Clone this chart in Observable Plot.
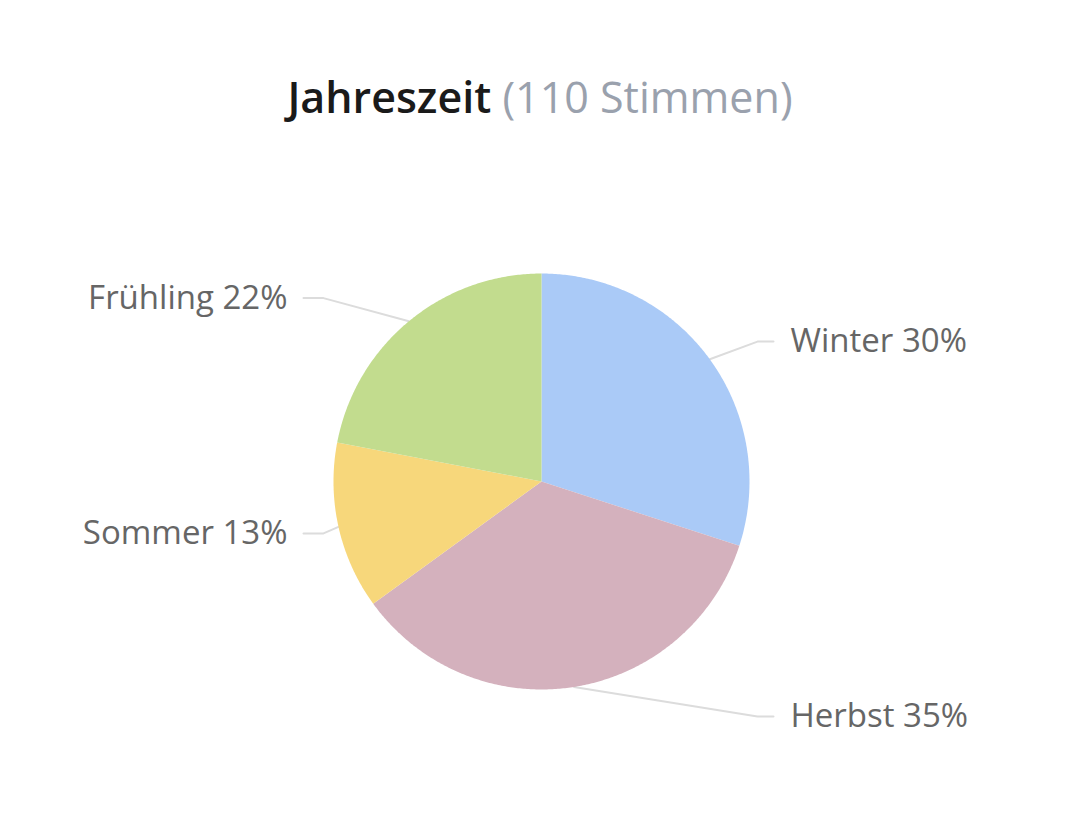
<!DOCTYPE html>
<html>
<head>
<meta charset="utf-8">
<script src="https://cdn.jsdelivr.net/npm/d3@7"></script>
<script src="https://cdn.jsdelivr.net/npm/@observablehq/plot@0.6"></script>
<style>
  html, body { margin: 0; padding: 0; background: #fff; }
  body { width: 1080px; height: 822px; overflow: hidden; font-family: "Open Sans", sans-serif; }
  #title { height: 170px; box-sizing: border-box; padding-top: 75px; text-align: center;
           font-size: 43px; line-height: 43px; font-weight: 600; color: #1a1a1a; }
  #title span { font-weight: 400; color: #9aa1ad; }
  #chart svg { display: block; }
</style>
</head>
<body>
<div id="title">Jahreszeit <span>(110 Stimmen)</span></div>
<div id="chart"></div>
<script>
// Data
const categories = ["Winter", "Herbst", "Sommer", "Frühling"];
const percentages = [30, 35, 13, 22];
const colors = ["#aacaf7", "#d4b1bd", "#f7d77b", "#c2dc8e"];

// Layout constants
const W = 1080, H = 652;
const cx = 541, cy = 311;   // pie centre within the SVG (px)
const R = 208;              // pie radius (px)
const labelDist = R + 30;

const pie = d3.pie().sort(null).value(d => d.value)(
  categories.map((name, i) => ({name, value: percentages[i]}))
);

// slice polygons in centre-relative, y-up coordinates
const slicePts = [];
for (const p of pie) {
  const a0 = p.startAngle, a1 = p.endAngle;
  const n = Math.max(2, Math.ceil((a1 - a0) / (Math.PI / 360)));
  slicePts.push({name: p.data.name, x: 0, y: 0});
  for (let k = 0; k <= n; k++) {
    const a = a0 + (a1 - a0) * k / n;
    slicePts.push({name: p.data.name, x: R * Math.sin(a), y: R * Math.cos(a)});
  }
  slicePts.push({name: p.data.name, x: 0, y: 0});
}

// connectors and labels
const connPts = [];
const labels = [];
for (const p of pie) {
  const mid = (p.startAngle + p.endAngle) / 2;
  const right = Math.sin(mid) >= 0;
  const sx = R * Math.sin(mid), sy = R * Math.cos(mid);
  const ly = labelDist * Math.cos(mid);
  const bx = right ? 216 : -218;
  const ex = right ? 232 : -238;
  connPts.push({name: p.data.name, x: sx, y: sy});
  connPts.push({name: p.data.name, x: bx, y: ly});
  connPts.push({name: p.data.name, x: ex, y: ly});
  labels.push({
    text: `${p.data.name} ${p.data.value}%`,
    x: right ? 249 : -254,
    y: ly,
    anchor: right ? "start" : "end"
  });
}

const chart = Plot.plot({
  width: W,
  height: H,
  margin: 0,
  style: {fontFamily: "Open Sans, sans-serif", background: "#fff"},
  x: {domain: [-cx, W - cx], axis: null},
  y: {domain: [cy - H, cy], axis: null},
  color: {domain: categories, range: colors},
  marks: [
    Plot.line(connPts, {x: "x", y: "y", z: "name", stroke: "#dcdcdc", strokeWidth: 2, curve: "linear"}),
    Plot.line(slicePts, {x: "x", y: "y", z: "name", fill: "name", stroke: "none", curve: "linear"}),
    Plot.text(labels.filter(d => d.anchor === "start"), {x: "x", y: "y", text: "text", textAnchor: "start",
      fontSize: 33, fill: "#666666", lineAnchor: "middle"}),
    Plot.text(labels.filter(d => d.anchor === "end"), {x: "x", y: "y", text: "text", textAnchor: "end",
      fontSize: 33, fill: "#666666", lineAnchor: "middle"})
  ]
});
document.getElementById("chart").appendChild(chart);
</script>
</body>
</html>
